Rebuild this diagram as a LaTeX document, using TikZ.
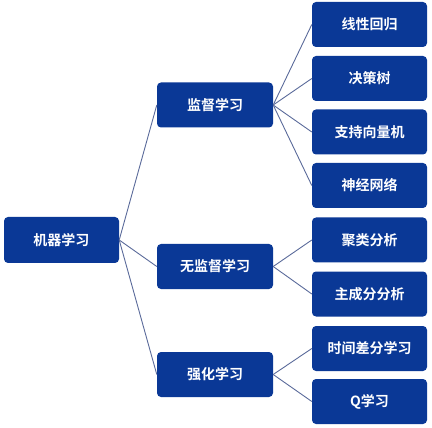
\documentclass[tikz,border=0pt]{standalone}
\usepackage{fontspec}
\setmainfont{Noto Sans CJK SC}[BoldFont={* Bold}]
\newfontfamily\cjkb{Noto Sans CJK SC Bold}
\definecolor{boxblue}{RGB}{10,56,150}
\definecolor{linkc}{RGB}{90,106,154}
\tikzset{
  box/.style={draw=none, fill=boxblue, rounded corners=4pt, text=white,
    font=\cjkb\fontsize{14}{15}\selectfont, inner sep=0pt, anchor=center},
  rootbox/.style={box, minimum width=115pt, minimum height=46pt},
  midbox/.style={box, minimum width=116pt, minimum height=45pt},
  leafbox/.style={box, minimum width=115pt, minimum height=45pt},
  link/.style={draw=linkc, line width=0.9pt}
}
\begin{document}
\begin{tikzpicture}[x=1pt,y=-1pt]
\useasboundingbox (0,0) rectangle (432,428);
\node[rootbox] (root) at (61.5,240) {机器学习};
\node[midbox] (sup) at (215,105) {监督学习};
\node[midbox] (unsup) at (215,266.5) {无监督学习};
\node[midbox] (rl) at (215,374.5) {强化学习};
\node[leafbox] (l1) at (369.5,24.5) {线性回归};
\node[leafbox] (l2) at (369.5,78.5) {决策树};
\node[leafbox] (l3) at (369.5,132) {支持向量机};
\node[leafbox] (l4) at (369.5,185.5) {神经网络};
\node[leafbox] (l5) at (369.5,240) {聚类分析};
\node[leafbox] (l6) at (369.5,294) {主成分分析};
\node[leafbox] (l7) at (369.5,348.5) {时间差分学习};
\node[leafbox] (l8) at (369.5,401.5) {Q学习};
\foreach \t in {sup,unsup,rl} \draw[link] (root.east) -- (\t.west);
\foreach \t in {l1,l2,l3,l4} \draw[link] (sup.east) -- (\t.west);
\foreach \t in {l5,l6} \draw[link] (unsup.east) -- (\t.west);
\foreach \t in {l7,l8} \draw[link] (rl.east) -- (\t.west);
\end{tikzpicture}
\end{document}
